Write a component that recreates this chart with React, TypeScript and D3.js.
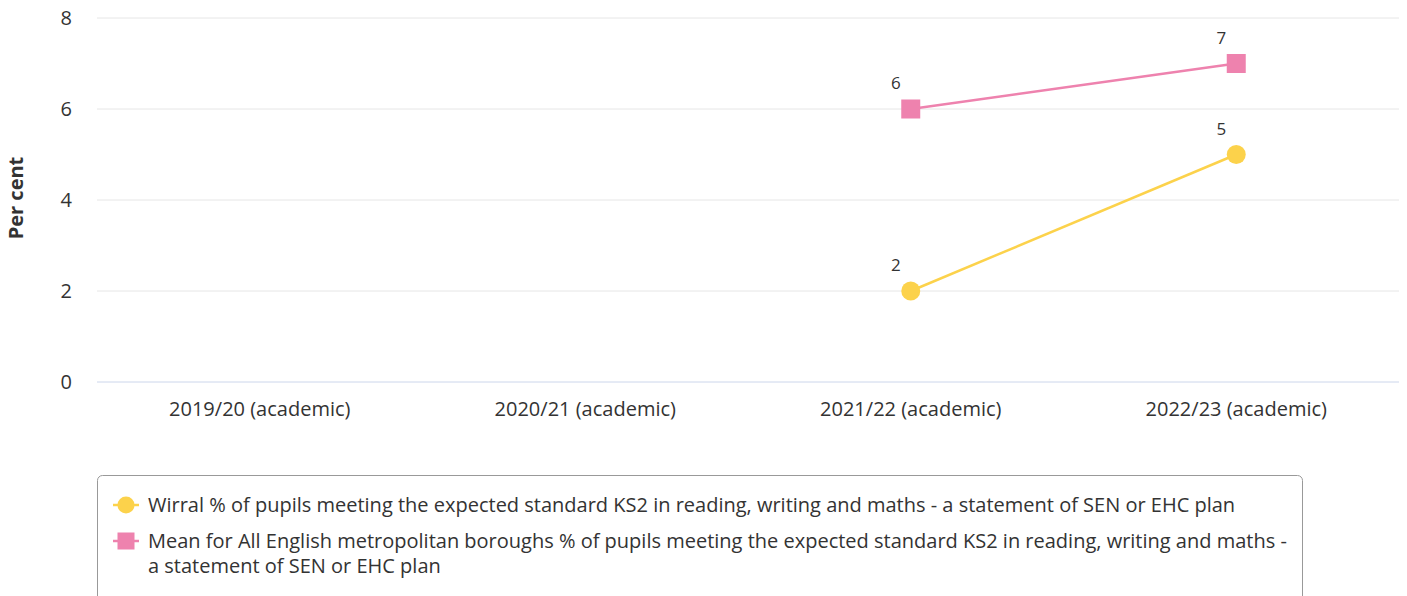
import React from "react";
import * as d3 from "d3";

const categories = ["2019/20 (academic)", "2020/21 (academic)", "2021/22 (academic)", "2022/23 (academic)"];
const wirralValues: (number | null)[] = [null, null, 2, 5];
const meanValues: (number | null)[] = [null, null, 6, 7];
const yTicks = [0, 2, 4, 6, 8];
const legendWirral = "Wirral % of pupils meeting the expected standard KS2 in reading, writing and maths - a statement of SEN or EHC plan";
const legendMeanLine1 = "Mean for All English metropolitan boroughs % of pupils meeting the expected standard KS2 in reading, writing and maths -";
const legendMeanLine2 = "a statement of SEN or EHC plan";

const YELLOW = "#FCD24B";
const PINK = "#EE82AE";
const FONT = "'Open Sans', sans-serif";
const FS = 20;

export default function App() {
  const W = 1407, H = 596;
  const left = 97, right = 1399, top = 18, bottom = 382;
  const x = d3.scaleBand<string>().domain(categories).range([left, right]);
  const y = d3.scaleLinear().domain([0, 8]).range([bottom, top]);
  const cx = (c: string) => (x(c) as number) + x.bandwidth() / 2;

  const line = d3.line<[string, number | null]>()
    .defined(d => d[1] !== null)
    .x(d => cx(d[0]))
    .y(d => y(d[1] as number));

  const wPairs = categories.map((c, i) => [c, wirralValues[i]] as [string, number | null]);
  const mPairs = categories.map((c, i) => [c, meanValues[i]] as [string, number | null]);

  return (
    <svg width={W} height={H} style={{ position: "absolute", left: 0, top: 0, fontFamily: FONT }}>
      <rect x={0} y={0} width={W} height={H} fill="#fff" />
      {yTicks.map(t => (
        <g key={t}>
          <line x1={left} x2={right} y1={y(t)} y2={y(t)} stroke={t === 0 ? "#ccd6eb" : "#e6e6e6"} strokeWidth={1} />
          <text x={72} y={y(t)} dy="0.35em" textAnchor="end" fontSize={FS} fill="#333">{t}</text>
        </g>
      ))}
      <text transform={`translate(23, ${(top + bottom) / 2 - 2}) rotate(-90)`} textAnchor="middle" fontSize={FS} fontWeight="bold" fill="#333">Per cent</text>
      {categories.map(c => (
        <text key={c} x={cx(c)} y={416} textAnchor="middle" fontSize={FS} fill="#333">{c}</text>
      ))}
      <path d={line(wPairs) || ""} fill="none" stroke={YELLOW} strokeWidth={2.5} />
      <path d={line(mPairs) || ""} fill="none" stroke={PINK} strokeWidth={2.5} />
      {wPairs.filter(d => d[1] !== null).map(d => (
        <g key={"w" + d[0]}>
          <circle cx={cx(d[0])} cy={y(d[1] as number)} r={9.5} fill={YELLOW} />
          <text x={cx(d[0]) - 15} y={y(d[1] as number) - 20} textAnchor="middle" fontSize={17} fill="#333">{d[1]}</text>
        </g>
      ))}
      {mPairs.filter(d => d[1] !== null).map(d => (
        <g key={"m" + d[0]}>
          <rect x={cx(d[0]) - 9.5} y={y(d[1] as number) - 9.5} width={19} height={19} fill={PINK} />
          <text x={cx(d[0]) - 15} y={y(d[1] as number) - 20} textAnchor="middle" fontSize={17} fill="#333">{d[1]}</text>
        </g>
      ))}
      <rect x={97.5} y={475.5} width={1205} height={130} rx={5} fill="none" stroke="#999" strokeWidth={1} />
      <line x1={113} x2={139} y1={505} y2={505} stroke={YELLOW} strokeWidth={2.5} />
      <circle cx={126} cy={505} r={8.5} fill={YELLOW} />
      <text x={148} y={505} dy="0.35em" fontSize={FS} fill="#333">{legendWirral}</text>
      <line x1={113} x2={139} y1={541} y2={541} stroke={PINK} strokeWidth={2.5} />
      <rect x={117.5} y={532.5} width={17} height={17} fill={PINK} />
      <text x={148} y={541} dy="0.35em" fontSize={FS} fill="#333">{legendMeanLine1}</text>
      <text x={148} y={566} dy="0.35em" fontSize={FS} fill="#333">{legendMeanLine2}</text>
    </svg>
  );
}
